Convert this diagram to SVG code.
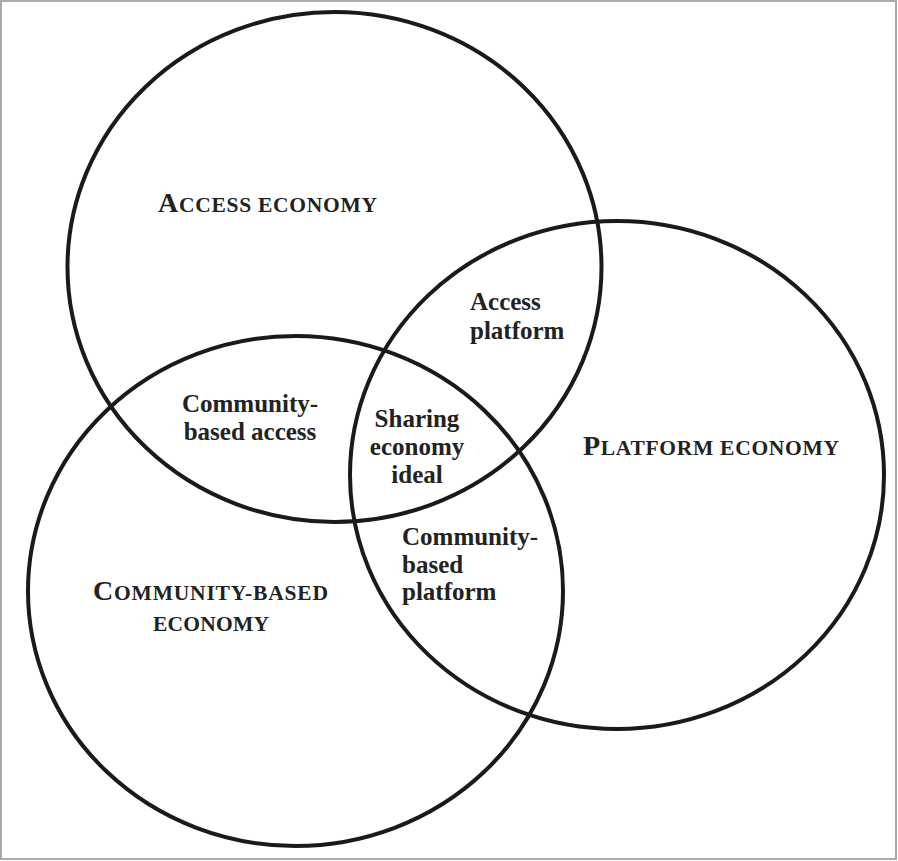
<svg xmlns="http://www.w3.org/2000/svg" width="898" height="861" viewBox="0 0 898 861">
<style>
.ring{fill:none;stroke:#1a1a1a;stroke-width:4}
.big{font-family:"Liberation Serif","Times New Roman",serif;font-weight:bold;fill:#222}
.cap{font-size:28px}
.sc{font-size:21.5px}
.lbl{font-family:"Liberation Serif","Times New Roman",serif;font-weight:bold;font-size:25px;fill:#222}
</style>
<rect x="1" y="1" width="895" height="858" fill="#fff" stroke="#aaaaaa" stroke-width="2"/>
<g id="connectors"></g>
<g id="access-economy">
<ellipse class="ring" cx="334.5" cy="267" rx="267" ry="255"/>
<text class="big" x="158" y="212" textLength="219" lengthAdjust="spacing"><tspan class="cap">A</tspan><tspan class="sc">CCESS ECONOMY</tspan></text>
</g>
<g id="platform-economy">
<ellipse class="ring" cx="617" cy="475" rx="267" ry="254"/>
<text class="big" x="583" y="455" textLength="256" lengthAdjust="spacing"><tspan class="cap">P</tspan><tspan class="sc">LATFORM ECONOMY</tspan></text>
</g>
<g id="community-economy">
<ellipse class="ring" cx="295.5" cy="591" rx="267.5" ry="255"/>
<text class="big" x="93" y="600" textLength="235" lengthAdjust="spacing"><tspan class="cap">C</tspan><tspan class="sc">OMMUNITY-BASED</tspan></text>
<text class="big sc" x="153" y="631" textLength="116" lengthAdjust="spacing">ECONOMY</text>
</g>
<g id="access-platform">
<text class="lbl" x="470" y="310">Access</text>
<text class="lbl" x="470" y="339">platform</text>
</g>
<g id="community-based-access">
<text class="lbl" x="250" y="412" text-anchor="middle">Community-</text>
<text class="lbl" x="250" y="440" text-anchor="middle">based access</text>
</g>
<g id="sharing-economy-ideal">
<text class="lbl" x="417" y="427" text-anchor="middle">Sharing</text>
<text class="lbl" x="417" y="455" text-anchor="middle">economy</text>
<text class="lbl" x="417" y="483" text-anchor="middle">ideal</text>
</g>
<g id="community-based-platform">
<text class="lbl" x="402" y="545">Community-</text>
<text class="lbl" x="402" y="573">based</text>
<text class="lbl" x="402" y="600">platform</text>
</g>
</svg>
